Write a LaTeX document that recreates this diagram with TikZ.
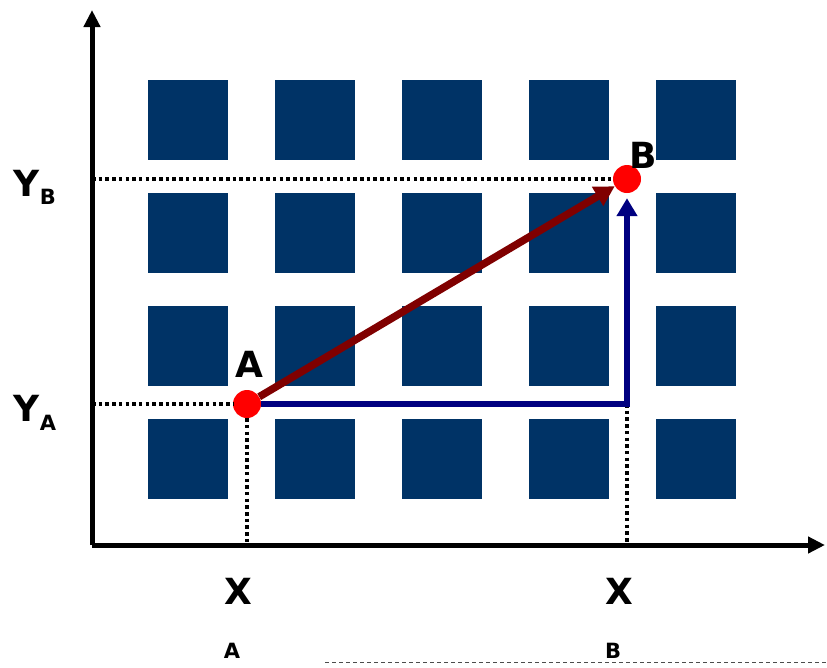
\documentclass[tikz,border=0pt]{standalone}
\usepackage{fontspec}
\setmainfont{DejaVu Sans}
\usepackage{tikz}
\usetikzlibrary{arrows.meta}
\definecolor{tileblue}{RGB}{0,51,102}
\definecolor{darkred}{RGB}{128,0,0}
\definecolor{navyline}{RGB}{0,0,128}

\begin{document}
\begin{tikzpicture}[x=1pt,y=-1pt,
    tile/.style={fill=tileblue},
    axis/.style={line width=5pt,-{Triangle[length=17pt,width=16pt]}},
    guide/.style={line width=3.5pt,dash pattern=on 3.5pt off 3.2pt},
    dot/.style={circle,fill=red,inner sep=0pt,minimum size=28pt},
    big/.style={font=\fontsize{36}{36}\selectfont\bfseries},
    small/.style={font=\fontsize{21}{21}\selectfont\bfseries}]
    \useasboundingbox (0,0) rectangle (827,667);
    \foreach \i in {0,...,4}
      \foreach \j in {0,...,3}
        \fill[tile] (148+127*\i,80+113*\j) rectangle ++(80,80);
    \coordinate (O) at (92,545);
    \coordinate (ytop) at (92,10);
    \coordinate (xend) at (825,545);
    \draw[axis] (O) -- (ytop);
    \draw[axis] (O) -- (xend);
    \node[dot] (A) at (247,404) {};
    \node[dot] (B) at (627,179) {};
    \coordinate (C) at (627,404);
    \draw[guide] (ytop |- A) -- (A);
    \draw[guide] (ytop |- B) -- (B);
    \draw[guide] (A) -- (A |- O);
    \draw[guide] (C) -- (C |- O);
    \draw[navyline,line width=6.5pt,shorten >=5pt,-{Triangle[length=18pt,width=20pt]}] (A) -- (C) -- (B);
    \draw[darkred,line width=7.5pt,-{Triangle[length=20pt,width=21pt]}] (A) -- (B);
    \node[big] (lblA) at (249,364) {A};
    \node[big] (lblB) at (643,155) {B};
    \node[big] (yB) at (27,183) {Y};
    \node[small] (yBsub) at (48,197) {B};
    \node[big] (yA) at (27,408) {Y};
    \node[small] (yAsub) at (48,423) {A};
    \node[big] (xA) at (238,591) {X};
    \node[small] (xAsub) at (232,651) {A};
    \node[big] (xB) at (619,591) {X};
    \node[small] (xBsub) at (613,651) {B};
    \draw[gray!60!black,line width=0.8pt,dash pattern=on 4pt off 3pt] (325,662) -- (827,662);
\end{tikzpicture}
\end{document}
